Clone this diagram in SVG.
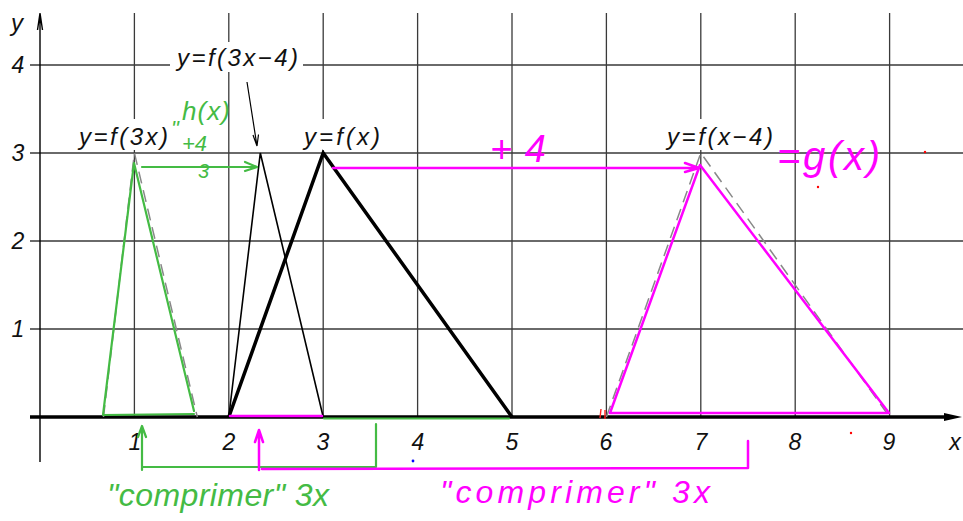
<svg xmlns="http://www.w3.org/2000/svg" width="963" height="521" viewBox="0 0 963 521">
<style>
.grid{stroke:#3a3a3a;stroke-width:1.3;fill:none}
.lbl{font-family:"Liberation Sans",Arial,sans-serif;font-style:italic;fill:#111}
.hand{font-family:"Liberation Sans",Arial,sans-serif;font-style:italic}
.g{stroke:#44bb44;fill:none;stroke-width:2.2;stroke-linecap:round;stroke-linejoin:round}
.m{stroke:#ff00ff;fill:none;stroke-width:2.5;stroke-linecap:round;stroke-linejoin:round}
.dash{stroke:#888;fill:none;stroke-width:1.5;stroke-dasharray:12 7}
.bk{stroke:#000;fill:none}
</style>
<rect width="963" height="521" fill="#fff"/>
<g id="grid">
<path class="grid" d="M30,65H963M30,153H963M30,241H963M30,329H963"/>
<path class="grid" d="M134.4,13V417M228.8,13V417M323.2,13V417M417.6,13V417M512,13V417M606.4,13V417M700.8,13V417M795.2,13V417M889.6,13V417"/>
</g>
<g id="axes">
<path class="bk" stroke-width="1.4" d="M40,13V462M37.5,30L40,13L42.5,30"/>
<path class="bk" stroke-width="3.5" d="M30,417H948"/>
<polygon points="962,417 944,413 944,421" fill="#000"/>
<text class="lbl" x="17" y="31" font-size="24" text-anchor="middle">y</text>
<text class="lbl" font-size="23" text-anchor="middle">
<tspan x="18" y="73">4</tspan><tspan x="18" y="161">3</tspan><tspan x="18" y="249">2</tspan><tspan x="18" y="337">1</tspan>
</text>
<text class="lbl" font-size="23" text-anchor="middle">
<tspan x="135" y="450">1</tspan><tspan x="229" y="450">2</tspan><tspan x="323" y="450">3</tspan><tspan x="418" y="450">4</tspan><tspan x="512" y="450">5</tspan><tspan x="606" y="450">6</tspan><tspan x="701" y="450">7</tspan><tspan x="795" y="450">8</tspan><tspan x="889" y="450">9</tspan><tspan x="955" y="450">x</tspan>
</text>
</g>
<g id="label-f3x4">
<rect x="170" y="42" width="133" height="30" fill="#fff"/>
<text class="lbl" x="177" y="66" font-size="24" textLength="121" lengthAdjust="spacing">y=f(3x−4)</text>
<path class="bk" stroke-width="1.2" d="M247,82L257,146M253,135L257,146L258.5,134.5"/>
</g>
<g id="label-f3x">
<rect x="76" y="119" width="96" height="31" fill="#fff"/>
<text class="lbl" x="79" y="145" font-size="24" textLength="89" lengthAdjust="spacing">y=f(3x)</text>
</g>
<g id="label-fx">
<rect x="301" y="119" width="82" height="31" fill="#fff"/>
<text class="lbl" x="304" y="145" font-size="24" textLength="76" lengthAdjust="spacing">y=f(x)</text>
</g>
<g id="label-fx4">
<rect x="664" y="119" width="112" height="31" fill="#fff"/>
<text class="lbl" x="667" y="145" font-size="24" textLength="106" lengthAdjust="spacing">y=f(x−4)</text>
</g>
<g id="curve-dashed">
<polyline class="dash" points="103.5,417 134.4,153 197.3,417"/>
<polyline class="dash" points="606.4,417 700.8,153 889.6,417"/>
</g>
<g id="curve-fx">
<polyline class="bk" stroke-width="3.5" points="228.8,417 323.2,153 512,417"/>
</g>
<g id="curve-f3x4">
<polyline class="bk" stroke-width="1.6" points="228.8,417 260.3,153 323.2,417"/>
</g>
<g id="curve-green">
<path class="g" d="M194,411L134,163L103,415L194,414"/>
<path class="g" stroke-width="3" d="M324,418.5H509"/>
</g>
<g id="curve-magenta">
<path class="m" d="M610,413L700,165L889,413Z"/>
<path class="m" stroke-width="3" d="M230,416H322"/>
</g>
<g id="connectors">
<path class="g" d="M142,167H256M245,162L257,167L245,171"/>
<path class="m" d="M333,168H698M685,163L699,168L685,172"/>
<path class="g" d="M142,470V428M138,437L142,426L146,437M142,467H376M376,424V467"/>
<path class="m" d="M259,470V432M255,442L259,430L263,442M262,469L748,468M748,441V468"/>
</g>
<g id="notes-green" fill="#44bb44">
<text class="hand" x="171" y="136" font-size="22">"</text>
<text class="hand" x="182" y="120" font-size="26" textLength="48" lengthAdjust="spacing">h(x)</text>
<text class="hand" x="182" y="151" font-size="22">+4</text>
<text class="hand" x="198" y="178" font-size="20">3</text>
<text class="hand" x="107" y="506" font-size="32" textLength="222" lengthAdjust="spacing">"comprimer" 3x</text>
</g>
<g id="notes-magenta" fill="#ff00ff">
<text class="hand" x="490" y="162" font-size="38" textLength="56" lengthAdjust="spacing">+4</text>
<text class="hand" x="777" y="170" font-size="40" textLength="103" lengthAdjust="spacing">=g(x)</text>
<text class="hand" x="440" y="503" font-size="32" textLength="270" lengthAdjust="spacing">"comprimer" 3x</text>
</g>
<g id="marks">
<path d="M601,409L600,418M605,410L605,419" stroke="#ff2020" stroke-width="1.4"/>
<circle cx="925" cy="152" r="1.2" fill="#f00"/>
<circle cx="818" cy="187" r="1.2" fill="#f00"/>
<circle cx="851" cy="433" r="1.2" fill="#f00"/>
<circle cx="413" cy="461" r="1.4" fill="#00f"/>
</g>
</svg>
